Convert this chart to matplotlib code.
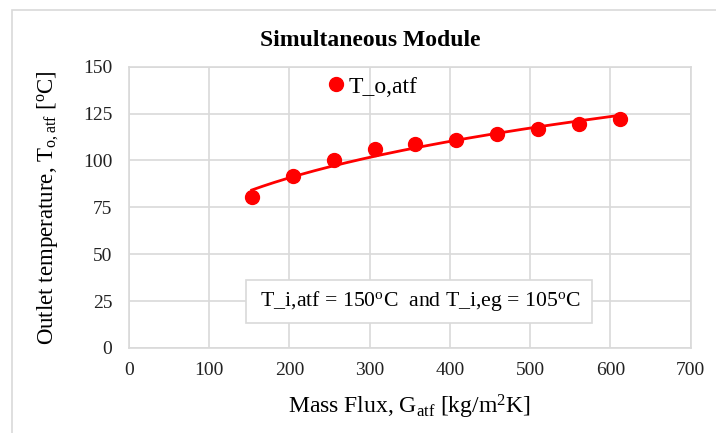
import numpy as np
import matplotlib
matplotlib.use("Agg")
import matplotlib.pyplot as plt
from matplotlib.patches import Rectangle

plt.rcParams['font.family'] = ['Liberation Serif', 'DejaVu Serif']
plt.rcParams['mathtext.fontset'] = 'custom'
plt.rcParams['mathtext.rm'] = 'Liberation Serif'
plt.rcParams['mathtext.it'] = 'Liberation Serif:italic'
plt.rcParams['mathtext.bf'] = 'Liberation Serif:bold'

mass_flux = [153, 204, 255, 306, 357, 408, 459, 510, 561, 612]
t_out = [80.5, 91.7, 100.0, 106.0, 109.0, 110.8, 114.3, 116.6, 119.3, 122.0]
x_ticks = [0, 100, 200, 300, 400, 500, 600, 700]
y_ticks = [0, 25, 50, 75, 100, 125, 150]

fig = plt.figure(figsize=(7.16, 4.33), dpi=100)
fig.patches.append(Rectangle((12/716, -0.01), 1.0, 1 - 10/433 + 0.01,
                             transform=fig.transFigure, fill=False,
                             edgecolor='#d9d9d9', linewidth=1.2))
ax = fig.add_axes([129/716, 1 - 348/433, (690.7 - 129)/716, (348 - 66.7)/433])

red = '#ff0000'
# power trendline fitted from the data
b, lna = np.polyfit(np.log(mass_flux), np.log(t_out), 1)
xf = np.linspace(mass_flux[0], mass_flux[-1], 200)
ax.plot(xf, np.exp(lna) * xf ** b, color=red, linewidth=2.0, zorder=3)
ax.plot(mass_flux, t_out, 'o', color=red, markersize=10, zorder=4, label='T_o,atf')

ax.set_xlim(0, 700)
ax.set_ylim(0, 150)
ax.set_xticks(x_ticks)
ax.set_yticks(y_ticks)
ax.tick_params(length=0, labelsize=14, colors='#222222')
ax.tick_params(axis='y', pad=12)
ax.tick_params(axis='x', pad=10)
ax.grid(True, color='#d9d9d9', linewidth=1.2)
ax.set_axisbelow(True)
for s in ax.spines.values():
    s.set_color('#d9d9d9')
    s.set_linewidth(1.2)

ax.set_xlabel(r'Mass Flux, G$_{\mathregular{atf}}$ [kg/m$^{\mathregular{2}}$K]', fontsize=17, labelpad=10)
ax.set_ylabel(r'Outlet temperature, T$_{\mathregular{o,atf}}$ [$^{\mathregular{o}}$C]', fontsize=16.5, labelpad=16)
fig.text(370/716, 1 - 41/433, 'Simultaneous Module', fontsize=17, fontweight='bold',
         ha='center', va='center')

leg = ax.legend(loc='center', bbox_to_anchor=((368 - 129) / 561.7, (348 - 87) / 281.3),
                frameon=False, fontsize=17, handletextpad=-0.2, markerscale=1.0,
                borderaxespad=0, handlelength=1.5)

ax.text((419 - 129) / 561.7 * 700, (348 - 301.5) / 1.8753,
        r' T_i,atf = 150$^{\mathregular{o}}$C  and T_i,eg = 105$^{\mathregular{o}}$C ',
        ha='center', va='center', fontsize=15.7,
        bbox=dict(boxstyle='square,pad=0.42', facecolor='white', edgecolor='#d9d9d9', linewidth=1.2),
        zorder=5)

fig.savefig('out.png', dpi=100)
